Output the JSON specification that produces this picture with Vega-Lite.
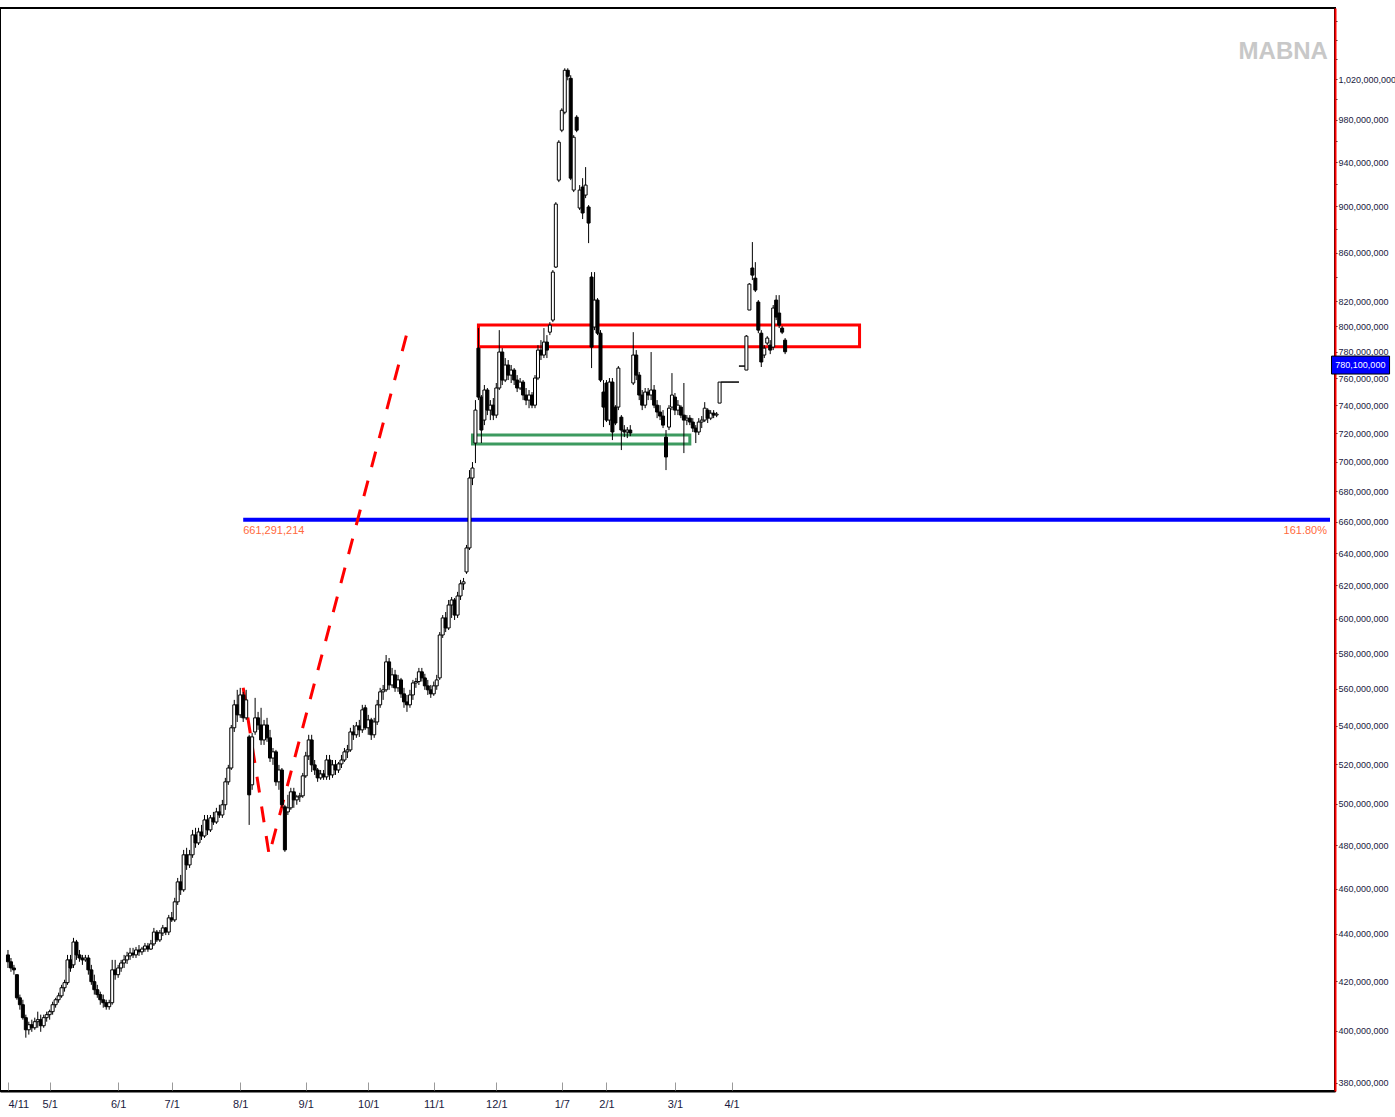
{
"$schema": "https://vega.github.io/schema/vega-lite/v6.json",
"width": 1335, "height": 1083,
"autosize": {"type": "none"},
"padding": {"left": 0, "top": 8, "right": 60, "bottom": 26},
"background": "white",
"config": {"font": "Liberation Sans", "view": {"stroke": "black", "strokeWidth": 2}},
"datasets": {"k": [
{"i":1,"o":431.0e6,"h":433.1e6,"l":425.5e6,"c":428.1e6},
{"i":2,"o":428.1e6,"h":429.7e6,"l":423.9e6,"c":425.5e6},
{"i":3,"o":425.5e6,"h":426.8e6,"l":422.7e6,"c":424.7e6},
{"i":4,"o":422.7e6,"h":422.7e6,"l":412.4e6,"c":413.2e6},
{"i":5,"o":413.2e6,"h":414.5e6,"l":408.4e6,"c":410.4e6},
{"i":6,"o":410.4e6,"h":412.4e6,"l":404.4e6,"c":405.2e6},
{"i":7,"o":405.2e6,"h":406.4e6,"l":397.3e6,"c":400.4e6},
{"i":8,"o":400.4e6,"h":403.6e6,"l":398.5e6,"c":402.4e6},
{"i":9,"o":402.4e6,"h":404.4e6,"l":399.6e6,"c":401.2e6},
{"i":10,"o":401.2e6,"h":405.2e6,"l":400.4e6,"c":403.6e6},
{"i":11,"o":403.6e6,"h":407.6e6,"l":401.2e6,"c":404.4e6},
{"i":12,"o":404.4e6,"h":406.4e6,"l":399.6e6,"c":402.0e6},
{"i":13,"o":402.0e6,"h":406.4e6,"l":401.2e6,"c":405.2e6},
{"i":14,"o":405.2e6,"h":407.6e6,"l":403.6e6,"c":406.4e6},
{"i":15,"o":406.4e6,"h":408.4e6,"l":404.4e6,"c":407.6e6},
{"i":16,"o":407.6e6,"h":411.6e6,"l":406.4e6,"c":410.4e6},
{"i":17,"o":410.4e6,"h":413.2e6,"l":409.2e6,"c":412.4e6},
{"i":18,"o":412.4e6,"h":415.3e6,"l":411.2e6,"c":414.0e6},
{"i":19,"o":414.0e6,"h":418.5e6,"l":413.2e6,"c":417.3e6},
{"i":20,"o":417.3e6,"h":420.6e6,"l":415.7e6,"c":419.4e6},
{"i":21,"o":419.4e6,"h":431.0e6,"l":418.5e6,"c":428.9e6},
{"i":22,"o":428.9e6,"h":431.0e6,"l":423.9e6,"c":425.5e6},
{"i":23,"o":426.8e6,"h":438.3e6,"l":425.5e6,"c":436.5e6},
{"i":24,"o":436.5e6,"h":437.4e6,"l":428.9e6,"c":431.0e6},
{"i":25,"o":431.0e6,"h":433.1e6,"l":428.1e6,"c":429.7e6},
{"i":26,"o":429.7e6,"h":431.0e6,"l":426.8e6,"c":428.9e6},
{"i":27,"o":428.9e6,"h":431.0e6,"l":428.1e6,"c":429.7e6},
{"i":28,"o":429.7e6,"h":431.0e6,"l":422.7e6,"c":424.7e6},
{"i":29,"o":424.7e6,"h":426.8e6,"l":418.5e6,"c":419.8e6},
{"i":30,"o":419.8e6,"h":422.7e6,"l":414.5e6,"c":416.5e6},
{"i":31,"o":416.5e6,"h":418.5e6,"l":413.2e6,"c":414.5e6},
{"i":32,"o":414.5e6,"h":415.7e6,"l":410.4e6,"c":412.4e6},
{"i":33,"o":412.4e6,"h":414.5e6,"l":409.2e6,"c":411.2e6},
{"i":34,"o":411.2e6,"h":412.4e6,"l":408.4e6,"c":409.6e6},
{"i":35,"o":409.6e6,"h":412.4e6,"l":408.4e6,"c":411.2e6},
{"i":36,"o":411.2e6,"h":428.9e6,"l":410.4e6,"c":424.7e6},
{"i":37,"o":424.7e6,"h":428.9e6,"l":420.6e6,"c":422.7e6},
{"i":38,"o":422.7e6,"h":426.8e6,"l":421.4e6,"c":425.5e6},
{"i":39,"o":425.5e6,"h":428.9e6,"l":423.9e6,"c":427.6e6},
{"i":40,"o":427.6e6,"h":431.0e6,"l":425.5e6,"c":428.9e6},
{"i":41,"o":428.9e6,"h":432.3e6,"l":427.2e6,"c":430.6e6},
{"i":42,"o":430.6e6,"h":434.0e6,"l":428.9e6,"c":431.8e6},
{"i":43,"o":431.8e6,"h":434.0e6,"l":429.7e6,"c":431.0e6},
{"i":44,"o":431.0e6,"h":434.4e6,"l":429.7e6,"c":433.1e6},
{"i":45,"o":433.1e6,"h":435.2e6,"l":430.6e6,"c":432.3e6},
{"i":46,"o":432.3e6,"h":434.4e6,"l":431.0e6,"c":433.5e6},
{"i":47,"o":433.5e6,"h":436.1e6,"l":432.3e6,"c":434.8e6},
{"i":48,"o":434.8e6,"h":436.1e6,"l":432.3e6,"c":433.5e6},
{"i":49,"o":433.5e6,"h":437.4e6,"l":433.1e6,"c":435.7e6},
{"i":50,"o":435.7e6,"h":442.6e6,"l":434.8e6,"c":440.8e6},
{"i":51,"o":440.8e6,"h":441.7e6,"l":436.5e6,"c":437.4e6},
{"i":52,"o":437.4e6,"h":441.7e6,"l":436.5e6,"c":440.4e6},
{"i":53,"o":440.4e6,"h":443.9e6,"l":439.1e6,"c":442.6e6},
{"i":54,"o":442.6e6,"h":443.0e6,"l":439.5e6,"c":440.8e6},
{"i":55,"o":440.8e6,"h":448.3e6,"l":439.5e6,"c":447.0e6},
{"i":56,"o":447.0e6,"h":449.6e6,"l":445.2e6,"c":446.1e6},
{"i":57,"o":446.1e6,"h":455.9e6,"l":445.2e6,"c":454.1e6},
{"i":58,"o":454.1e6,"h":464.9e6,"l":452.7e6,"c":463.1e6},
{"i":59,"o":463.1e6,"h":466.3e6,"l":457.2e6,"c":459.5e6},
{"i":60,"o":459.5e6,"h":477.9e6,"l":458.6e6,"c":475.6e6},
{"i":61,"o":475.6e6,"h":478.9e6,"l":468.6e6,"c":470.9e6},
{"i":62,"o":470.9e6,"h":477.9e6,"l":469.5e6,"c":475.6e6},
{"i":63,"o":475.6e6,"h":487.4e6,"l":474.2e6,"c":485.0e6},
{"i":64,"o":485.0e6,"h":488.4e6,"l":478.9e6,"c":481.2e6},
{"i":65,"o":481.2e6,"h":488.4e6,"l":480.2e6,"c":486.4e6},
{"i":66,"o":486.4e6,"h":489.8e6,"l":482.6e6,"c":484.5e6},
{"i":67,"o":484.5e6,"h":494.6e6,"l":483.6e6,"c":492.2e6},
{"i":68,"o":492.2e6,"h":494.6e6,"l":485.0e6,"c":487.4e6},
{"i":69,"o":487.4e6,"h":494.6e6,"l":486.4e6,"c":493.2e6},
{"i":70,"o":493.2e6,"h":496.1e6,"l":489.8e6,"c":491.2e6},
{"i":71,"o":491.2e6,"h":498.1e6,"l":490.3e6,"c":496.1e6},
{"i":72,"o":496.1e6,"h":499.6e6,"l":493.2e6,"c":494.6e6},
{"i":73,"o":494.6e6,"h":502.0e6,"l":493.2e6,"c":499.6e6},
{"i":74,"o":499.6e6,"h":513.0e6,"l":497.1e6,"c":511.0e6},
{"i":75,"o":511.0e6,"h":519.6e6,"l":509.5e6,"c":518.0e6},
{"i":76,"o":518.0e6,"h":540.4e6,"l":517.0e6,"c":538.9e6},
{"i":77,"o":538.9e6,"h":553.9e6,"l":536.7e6,"c":551.2e6},
{"i":78,"o":551.2e6,"h":559.4e6,"l":542.0e6,"c":545.8e6},
{"i":79,"o":545.8e6,"h":560.5e6,"l":544.2e6,"c":556.6e6},
{"i":80,"o":556.6e6,"h":558.3e6,"l":542.0e6,"c":544.2e6},
{"i":81,"o":544.2e6,"h":559.4e6,"l":543.1e6,"c":553.9e6},
{"i":82,"o":534.1e6,"h":535.2e6,"l":489.8e6,"c":504.5e6},
{"i":83,"o":509.5e6,"h":536.2e6,"l":507.0e6,"c":534.1e6},
{"i":84,"o":536.7e6,"h":555.0e6,"l":535.2e6,"c":544.2e6},
{"i":85,"o":544.2e6,"h":547.4e6,"l":537.8e6,"c":540.4e6},
{"i":86,"o":540.4e6,"h":549.6e6,"l":529.9e6,"c":532.5e6},
{"i":87,"o":532.5e6,"h":543.1e6,"l":529.9e6,"c":540.4e6},
{"i":88,"o":540.4e6,"h":544.2e6,"l":531.5e6,"c":533.6e6},
{"i":89,"o":533.6e6,"h":537.8e6,"l":521.1e6,"c":523.1e6},
{"i":90,"o":523.1e6,"h":528.3e6,"l":519.6e6,"c":526.3e6},
{"i":91,"o":526.3e6,"h":527.3e6,"l":509.0e6,"c":511.0e6},
{"i":92,"o":511.0e6,"h":519.6e6,"l":507.0e6,"c":517.0e6},
{"i":93,"o":517.0e6,"h":518.0e6,"l":498.1e6,"c":499.6e6},
{"i":94,"o":498.6e6,"h":499.6e6,"l":477.0e6,"c":477.9e6},
{"i":95,"o":496.1e6,"h":504.5e6,"l":494.6e6,"c":498.1e6},
{"i":96,"o":498.1e6,"h":508.0e6,"l":497.1e6,"c":506.0e6},
{"i":97,"o":506.0e6,"h":508.0e6,"l":498.1e6,"c":502.0e6},
{"i":98,"o":502.0e6,"h":504.5e6,"l":499.6e6,"c":503.5e6},
{"i":99,"o":503.5e6,"h":505.5e6,"l":501.0e6,"c":504.0e6},
{"i":100,"o":504.0e6,"h":515.5e6,"l":503.0e6,"c":514.0e6},
{"i":101,"o":514.0e6,"h":526.3e6,"l":513.0e6,"c":524.2e6},
{"i":102,"o":524.2e6,"h":535.2e6,"l":522.1e6,"c":532.5e6},
{"i":103,"o":532.5e6,"h":535.2e6,"l":516.0e6,"c":519.6e6},
{"i":104,"o":519.6e6,"h":522.1e6,"l":514.5e6,"c":517.0e6},
{"i":105,"o":517.0e6,"h":518.0e6,"l":511.0e6,"c":513.0e6},
{"i":106,"o":513.0e6,"h":517.0e6,"l":512.0e6,"c":515.0e6},
{"i":107,"o":515.0e6,"h":517.0e6,"l":512.0e6,"c":513.5e6},
{"i":108,"o":513.5e6,"h":524.7e6,"l":512.0e6,"c":522.1e6},
{"i":109,"o":522.1e6,"h":524.7e6,"l":512.0e6,"c":514.5e6},
{"i":110,"o":514.5e6,"h":522.1e6,"l":513.0e6,"c":519.6e6},
{"i":111,"o":519.6e6,"h":522.1e6,"l":514.5e6,"c":517.0e6},
{"i":112,"o":517.0e6,"h":521.1e6,"l":515.5e6,"c":520.1e6},
{"i":113,"o":520.1e6,"h":524.7e6,"l":518.0e6,"c":522.1e6},
{"i":114,"o":522.1e6,"h":528.3e6,"l":521.1e6,"c":526.3e6},
{"i":115,"o":526.3e6,"h":529.9e6,"l":523.1e6,"c":527.3e6},
{"i":116,"o":527.3e6,"h":538.9e6,"l":526.3e6,"c":536.7e6},
{"i":117,"o":536.7e6,"h":540.4e6,"l":532.5e6,"c":535.2e6},
{"i":118,"o":535.2e6,"h":542.0e6,"l":533.6e6,"c":539.9e6},
{"i":119,"o":539.9e6,"h":543.1e6,"l":534.1e6,"c":537.8e6},
{"i":120,"o":537.8e6,"h":551.2e6,"l":536.2e6,"c":548.5e6},
{"i":121,"o":549.6e6,"h":551.2e6,"l":537.8e6,"c":538.9e6},
{"i":122,"o":538.9e6,"h":545.8e6,"l":535.2e6,"c":543.1e6},
{"i":123,"o":543.1e6,"h":544.2e6,"l":532.5e6,"c":535.2e6},
{"i":124,"o":535.2e6,"h":544.2e6,"l":533.6e6,"c":542.0e6},
{"i":125,"o":542.0e6,"h":553.9e6,"l":540.4e6,"c":551.2e6},
{"i":126,"o":551.2e6,"h":560.5e6,"l":549.6e6,"c":558.3e6},
{"i":127,"o":558.3e6,"h":562.1e6,"l":553.9e6,"c":559.4e6},
{"i":128,"o":559.4e6,"h":578.9e6,"l":558.3e6,"c":575.0e6},
{"i":129,"o":575.0e6,"h":577.2e6,"l":559.4e6,"c":562.1e6},
{"i":130,"o":562.1e6,"h":571.6e6,"l":560.5e6,"c":567.7e6},
{"i":131,"o":567.7e6,"h":570.5e6,"l":558.3e6,"c":560.5e6},
{"i":132,"o":560.5e6,"h":567.7e6,"l":558.3e6,"c":564.9e6},
{"i":133,"o":564.9e6,"h":566.0e6,"l":555.0e6,"c":557.2e6},
{"i":134,"o":557.2e6,"h":560.5e6,"l":549.6e6,"c":552.8e6},
{"i":135,"o":552.8e6,"h":556.6e6,"l":547.4e6,"c":551.2e6},
{"i":136,"o":551.2e6,"h":559.4e6,"l":549.6e6,"c":556.6e6},
{"i":137,"o":556.6e6,"h":564.9e6,"l":553.9e6,"c":563.2e6},
{"i":138,"o":563.2e6,"h":566.0e6,"l":560.5e6,"c":564.0e6},
{"i":139,"o":564.0e6,"h":571.6e6,"l":562.1e6,"c":569.4e6},
{"i":140,"o":569.4e6,"h":571.6e6,"l":564.0e6,"c":566.0e6},
{"i":141,"o":566.0e6,"h":568.3e6,"l":559.4e6,"c":561.6e6},
{"i":142,"o":561.6e6,"h":564.9e6,"l":556.6e6,"c":559.4e6},
{"i":143,"o":559.4e6,"h":562.1e6,"l":555.0e6,"c":557.2e6},
{"i":144,"o":557.2e6,"h":564.0e6,"l":556.1e6,"c":561.6e6},
{"i":145,"o":561.6e6,"h":567.7e6,"l":559.4e6,"c":564.9e6},
{"i":146,"o":566.0e6,"h":592.1e6,"l":564.9e6,"c":590.4e6},
{"i":147,"o":590.4e6,"h":602.1e6,"l":588.7e6,"c":600.4e6},
{"i":148,"o":600.4e6,"h":603.9e6,"l":592.1e6,"c":594.5e6},
{"i":149,"o":594.5e6,"h":611.1e6,"l":593.3e6,"c":608.1e6},
{"i":150,"o":608.1e6,"h":612.9e6,"l":600.4e6,"c":611.1e6},
{"i":151,"o":611.1e6,"h":612.3e6,"l":599.2e6,"c":602.1e6},
{"i":152,"o":602.1e6,"h":616.0e6,"l":600.4e6,"c":613.5e6},
{"i":153,"o":613.5e6,"h":623.3e6,"l":611.1e6,"c":620.9e6},
{"i":154,"o":620.9e6,"h":624.5e6,"l":617.2e6,"c":622.1e6},
{"i":155,"o":628.2e6,"h":645.1e6,"l":627.0e6,"c":643.2e6},
{"i":156,"o":643.2e6,"h":694.4e6,"l":641.9e6,"c":689.0e6},
{"i":157,"o":689.0e6,"h":699.9e6,"l":684.2e6,"c":695.8e6},
{"i":158,"o":713.1e6,"h":743.9e6,"l":699.2e6,"c":736.6e6},
{"i":159,"o":782.9e6,"h":798.5e6,"l":743.9e6,"c":746.1e6},
{"i":160,"o":746.1e6,"h":747.6e6,"l":713.1e6,"c":722.3e6},
{"i":161,"o":729.4e6,"h":755.0e6,"l":725.8e6,"c":751.3e6},
{"i":162,"o":751.3e6,"h":752.8e6,"l":733.0e6,"c":736.6e6},
{"i":163,"o":736.6e6,"h":743.9e6,"l":729.4e6,"c":740.2e6},
{"i":164,"o":740.2e6,"h":745.4e6,"l":729.4e6,"c":733.0e6},
{"i":165,"o":733.0e6,"h":756.5e6,"l":730.8e6,"c":752.8e6},
{"i":166,"o":752.8e6,"h":796.9e6,"l":751.3e6,"c":779.9e6},
{"i":167,"o":779.9e6,"h":782.9e6,"l":755.0e6,"c":758.7e6},
{"i":168,"o":758.7e6,"h":775.3e6,"l":757.2e6,"c":770.0e6},
{"i":169,"o":770.0e6,"h":773.8e6,"l":758.7e6,"c":762.4e6},
{"i":170,"o":762.4e6,"h":770.0e6,"l":756.5e6,"c":766.2e6},
{"i":171,"o":766.2e6,"h":767.7e6,"l":755.0e6,"c":758.7e6},
{"i":172,"o":758.7e6,"h":762.4e6,"l":749.8e6,"c":752.8e6},
{"i":173,"o":752.8e6,"h":760.2e6,"l":751.3e6,"c":757.2e6},
{"i":174,"o":757.2e6,"h":758.7e6,"l":743.9e6,"c":747.6e6},
{"i":175,"o":747.6e6,"h":752.8e6,"l":740.2e6,"c":743.9e6},
{"i":176,"o":743.9e6,"h":751.3e6,"l":738.0e6,"c":747.6e6},
{"i":177,"o":747.6e6,"h":749.8e6,"l":738.0e6,"c":740.2e6},
{"i":178,"o":740.2e6,"h":762.4e6,"l":738.0e6,"c":760.2e6},
{"i":179,"o":760.2e6,"h":785.2e6,"l":758.7e6,"c":781.4e6},
{"i":180,"o":781.4e6,"h":789.1e6,"l":773.8e6,"c":777.6e6},
{"i":181,"o":777.6e6,"h":798.5e6,"l":775.3e6,"c":787.6e6},
{"i":182,"o":787.6e6,"h":793.0e6,"l":775.3e6,"c":781.4e6},
{"i":183,"o":795.3e6,"h":803.2e6,"l":793.0e6,"c":800.8e6},
{"i":184,"o":804.8e6,"h":845.4e6,"l":803.2e6,"c":843.7e6},
{"i":185,"o":847.9e6,"h":903.8e6,"l":847.1e6,"c":902.1e6},
{"i":186,"o":923.6e6,"h":960.6e6,"l":921.8e6,"c":958.7e6},
{"i":187,"o":970.1e6,"h":991.2e6,"l":968.2e6,"c":989.3e6},
{"i":188,"o":987.4e6,"h":1031.0e6,"l":985.4e6,"c":1029.0e6},
{"i":189,"o":1029.0e6,"h":1031.0e6,"l":1018.9e6,"c":1022.9e6},
{"i":190,"o":1020.9e6,"h":1024.0e6,"l":923.6e6,"c":925.4e6},
{"i":191,"o":914.6e6,"h":965.4e6,"l":912.8e6,"c":963.4e6},
{"i":192,"o":982.6e6,"h":984.5e6,"l":968.2e6,"c":970.1e6},
{"i":193,"o":898.6e6,"h":919.1e6,"l":896.8e6,"c":914.6e6},
{"i":194,"o":917.3e6,"h":925.4e6,"l":888.9e6,"c":894.2e6},
{"i":195,"o":910.1e6,"h":935.5e6,"l":907.4e6,"c":919.1e6},
{"i":196,"o":899.5e6,"h":901.2e6,"l":868.1e6,"c":885.4e6},
{"i":197,"o":839.6e6,"h":843.7e6,"l":767.7e6,"c":783.7e6},
{"i":198,"o":799.3e6,"h":843.7e6,"l":796.9e6,"c":820.8e6},
{"i":199,"o":820.8e6,"h":822.4e6,"l":793.0e6,"c":794.5e6},
{"i":200,"o":794.5e6,"h":796.9e6,"l":757.2e6,"c":758.7e6},
{"i":201,"o":749.8e6,"h":758.7e6,"l":724.4e6,"c":738.8e6},
{"i":202,"o":756.5e6,"h":758.7e6,"l":728.0e6,"c":729.4e6},
{"i":203,"o":729.4e6,"h":760.2e6,"l":725.8e6,"c":757.2e6},
{"i":204,"o":757.2e6,"h":760.2e6,"l":715.2e6,"c":720.9e6},
{"i":205,"o":738.8e6,"h":740.2e6,"l":725.8e6,"c":727.3e6},
{"i":206,"o":738.8e6,"h":769.2e6,"l":736.6e6,"c":767.7e6},
{"i":207,"o":731.5e6,"h":733.0e6,"l":708.2e6,"c":722.3e6},
{"i":208,"o":722.3e6,"h":725.8e6,"l":717.3e6,"c":720.9e6},
{"i":209,"o":720.9e6,"h":724.4e6,"l":716.6e6,"c":722.3e6},
{"i":210,"o":722.3e6,"h":725.8e6,"l":718.0e6,"c":720.2e6},
{"i":211,"o":756.5e6,"h":795.3e6,"l":755.0e6,"c":777.6e6},
{"i":212,"o":777.6e6,"h":781.4e6,"l":758.7e6,"c":762.4e6},
{"i":213,"o":762.4e6,"h":764.7e6,"l":743.9e6,"c":747.6e6},
{"i":214,"o":747.6e6,"h":751.3e6,"l":736.6e6,"c":740.2e6},
{"i":215,"o":740.2e6,"h":752.8e6,"l":738.0e6,"c":749.8e6},
{"i":216,"o":749.8e6,"h":752.8e6,"l":743.9e6,"c":747.6e6},
{"i":217,"o":747.6e6,"h":779.9e6,"l":743.9e6,"c":751.3e6},
{"i":218,"o":751.3e6,"h":755.0e6,"l":738.0e6,"c":740.2e6},
{"i":219,"o":740.2e6,"h":743.9e6,"l":730.8e6,"c":735.2e6},
{"i":220,"o":735.2e6,"h":740.2e6,"l":729.4e6,"c":732.3e6},
{"i":221,"o":732.3e6,"h":736.6e6,"l":723.7e6,"c":725.8e6},
{"i":222,"o":717.3e6,"h":722.3e6,"l":694.4e6,"c":703.4e6},
{"i":223,"o":724.4e6,"h":740.2e6,"l":722.3e6,"c":738.0e6},
{"i":224,"o":738.8e6,"h":763.9e6,"l":736.6e6,"c":747.6e6},
{"i":225,"o":746.1e6,"h":749.1e6,"l":733.0e6,"c":736.6e6},
{"i":226,"o":736.6e6,"h":743.9e6,"l":733.0e6,"c":740.2e6},
{"i":227,"o":738.8e6,"h":740.2e6,"l":730.8e6,"c":733.0e6},
{"i":228,"o":733.0e6,"h":756.5e6,"l":706.1e6,"c":729.4e6},
{"i":229,"o":729.4e6,"h":733.0e6,"l":725.8e6,"c":730.8e6},
{"i":230,"o":730.8e6,"h":733.0e6,"l":725.8e6,"c":728.0e6},
{"i":231,"o":728.0e6,"h":730.8e6,"l":720.9e6,"c":723.7e6},
{"i":232,"o":723.7e6,"h":725.8e6,"l":713.1e6,"c":720.9e6},
{"i":233,"o":720.9e6,"h":730.8e6,"l":718.8e6,"c":728.0e6},
{"i":234,"o":728.0e6,"h":732.3e6,"l":723.7e6,"c":729.4e6},
{"i":235,"o":729.4e6,"h":742.4e6,"l":728.0e6,"c":738.0e6},
{"i":236,"o":736.6e6,"h":738.0e6,"l":727.3e6,"c":730.8e6},
{"i":237,"o":730.8e6,"h":736.6e6,"l":729.4e6,"c":734.4e6},
{"i":238,"o":734.4e6,"h":736.6e6,"l":730.8e6,"c":733.0e6},
{"i":239,"o":733.0e6,"h":735.2e6,"l":731.5e6,"c":733.7e6},
{"i":240,"o":741.7e6,"h":757.2e6,"l":741.7e6,"c":757.2e6},
{"i":241,"o":757.2e6,"h":757.2e6,"l":757.2e6,"c":757.2e6},
{"i":242,"o":757.2e6,"h":757.2e6,"l":757.2e6,"c":757.2e6},
{"i":243,"o":757.2e6,"h":757.2e6,"l":757.2e6,"c":757.2e6},
{"i":244,"o":757.2e6,"h":757.2e6,"l":757.2e6,"c":757.2e6},
{"i":245,"o":757.2e6,"h":757.2e6,"l":757.2e6,"c":757.2e6},
{"i":246,"o":757.2e6,"h":757.2e6,"l":757.2e6,"c":757.2e6},
{"i":247,"o":769.2e6,"h":769.2e6,"l":769.2e6,"c":769.2e6},
{"i":248,"o":769.2e6,"h":769.2e6,"l":769.2e6,"c":769.2e6},
{"i":249,"o":766.2e6,"h":793.0e6,"l":766.2e6,"c":792.2e6},
{"i":250,"o":812.8e6,"h":834.6e6,"l":812.8e6,"c":833.8e6},
{"i":251,"o":847.1e6,"h":869.0e6,"l":837.1e6,"c":841.2e6},
{"i":252,"o":838.7e6,"h":852.0e6,"l":827.3e6,"c":828.9e6},
{"i":253,"o":819.2e6,"h":820.8e6,"l":794.5e6,"c":796.9e6},
{"i":254,"o":794.5e6,"h":796.9e6,"l":768.5e6,"c":772.3e6},
{"i":255,"o":777.6e6,"h":785.2e6,"l":775.3e6,"c":782.9e6},
{"i":256,"o":786.8e6,"h":792.2e6,"l":785.2e6,"c":790.7e6},
{"i":257,"o":785.2e6,"h":789.1e6,"l":778.3e6,"c":781.4e6},
{"i":258,"o":783.7e6,"h":816.8e6,"l":781.4e6,"c":814.4e6},
{"i":259,"o":820.8e6,"h":824.8e6,"l":804.8e6,"c":807.2e6},
{"i":260,"o":810.4e6,"h":824.8e6,"l":798.5e6,"c":800.8e6},
{"i":261,"o":798.5e6,"h":800.1e6,"l":793.8e6,"c":795.3e6},
{"i":262,"o":789.1e6,"h":790.7e6,"l":778.3e6,"c":780.1e6}
]},
"layer": [
{
"data": {"values": [{"x1": 80, "x2": 445, "level": 661291214}]},
"mark": {"type": "rule", "color": "#0000FF", "strokeWidth": 4},
"encoding": {
"x": {"field": "x1", "type": "quantitative", "title": null, "scale": {"domain": [0, 445], "nice": false, "zero": false},
"axis": {"title": null, "orient": "bottom", "grid": false, "values": [1,15,38,56,79,101,122,144,165,187,202,225,244],
"labelExpr": "['4/11','5/1','6/1','7/1','8/1','9/1','10/1','11/1','12/1','1/7','2/1','3/1','4/1'][indexof([1,15,38,56,79,101,122,144,165,187,202,225,244], datum.value)]",
"domainColor": "#000000", "domainWidth": 2, "tickColor": "#9a9a9a", "tickSize": -9, "tickWidth": 1,
"labelPadding": 16, "labelFontSize": 11, "labelColor": "#1a1a40", "labelFont": "Liberation Sans",
"labelAlign": {"condition": {"test": "datum.value < 5", "value": "left"}, "value": "center"}, "labelOverlap": false}},
"x2": {"field": "x2"},
"y": {"field": "level", "type": "quantitative", "title": null, "scale": {"type": "log", "domain": [377000000, 1094000000], "nice": false, "zero": false},
"axis": {"title": null, "orient": "right", "grid": false,
"values": [380000000,400000000,420000000,440000000,460000000,480000000,500000000,520000000,540000000,560000000,580000000,600000000,620000000,640000000,660000000,680000000,700000000,720000000,740000000,760000000,780000000,800000000,820000000,840000000,860000000,880000000,900000000,920000000,940000000,960000000,980000000,1000000000,1020000000,1040000000,1060000000,1080000000],
"labelExpr": "(datum.value <= 820000000 || (datum.value <= 1020000000 && datum.value % 40000000 == 20000000)) ? format(datum.value, ',') : ''",
"domainColor": "#FF0000", "domainWidth": 2, "tickColor": "#333333", "tickSize": 2, "tickWidth": 1,
"labelPadding": 1, "labelFontSize": 9, "labelColor": "#1a1a40", "labelFont": "Liberation Sans", "labelOverlap": false}}
}
},
{
"data": {"values": [{"x": 80, "level": 661291214, "label": "661,291,214"}]},
"mark": {"type": "text", "align": "left", "baseline": "top", "dy": 5, "fontSize": 11, "color": "#FF6A3D", "font": "Liberation Sans"},
"encoding": {"x": {"field": "x", "type": "quantitative", "title": null}, "y": {"field": "level", "type": "quantitative", "title": null}, "text": {"field": "label"}}
},
{
"data": {"values": [{"x": 444, "level": 661291214, "label": "161.80%"}]},
"mark": {"type": "text", "align": "right", "baseline": "top", "dy": 5, "fontSize": 11, "color": "#FF6A3D", "font": "Liberation Sans"},
"encoding": {"x": {"field": "x", "type": "quantitative", "title": null}, "y": {"field": "level", "type": "quantitative", "title": null}, "text": {"field": "label"}}
},
{
"data": {"values": [{"x0": 159, "x1": 287, "lo": 784000000, "hi": 801000000}]},
"mark": {"type": "rect", "fill": null, "fillOpacity": 0, "stroke": "#FF0000", "strokeWidth": 3},
"encoding": {"x": {"field": "x0", "type": "quantitative", "title": null}, "x2": {"field": "x1"}, "y": {"field": "lo", "type": "quantitative", "title": null}, "y2": {"field": "hi"}}
},
{
"data": {"values": [{"x0": 157, "x1": 230, "lo": 712500000, "hi": 718800000}]},
"mark": {"type": "rect", "fill": null, "fillOpacity": 0, "stroke": "#3C9A5F", "strokeWidth": 3},
"encoding": {"x": {"field": "x0", "type": "quantitative", "title": null}, "x2": {"field": "x1"}, "y": {"field": "lo", "type": "quantitative", "title": null}, "y2": {"field": "hi"}}
},
{
"data": {"values": [{"k": 0, "x": 80, "p": 560500000}, {"k": 1, "x": 88.7, "p": 475600000}, {"k": 2, "x": 135, "p": 794500000}]},
"mark": {"type": "line", "color": "#FF0000", "strokeWidth": 3, "strokeDash": [16, 14]},
"encoding": {"x": {"field": "x", "type": "quantitative", "title": null}, "y": {"field": "p", "type": "quantitative", "title": null}, "order": {"field": "k", "type": "quantitative"}}
},
{
"data": {"name": "k"},
"mark": {"type": "rule", "color": "#000000", "strokeWidth": 1},
"encoding": {"x": {"field": "i", "type": "quantitative", "title": null}, "y": {"field": "l", "type": "quantitative", "title": null}, "y2": {"field": "h"}}
},
{
"data": {"name": "k"},
"mark": {"type": "bar", "size": 3, "stroke": "#000000", "strokeWidth": 1},
"encoding": {"x": {"field": "i", "type": "quantitative", "title": null}, "y": {"field": "o", "type": "quantitative", "title": null}, "y2": {"field": "c"},
"fill": {"condition": {"test": "datum.c >= datum.o", "value": "#ffffff"}, "value": "#000000"}}
},
{
"data": {"values": [{"x": 429.3, "p": 1047500000, "t": "MABNA"}]},
"mark": {"type": "text", "fontSize": 24, "fontWeight": "bold", "color": "#C8C8C8", "font": "Liberation Sans", "align": "center", "baseline": "middle"},
"encoding": {"x": {"field": "x", "type": "quantitative", "title": null}, "y": {"field": "p", "type": "quantitative", "title": null}, "text": {"field": "t"}}
},
{
"data": {"values": [{"a": 445.5, "b": 465, "lo": 763200000, "hi": 776800000}]},
"mark": {"type": "rect", "fill": "#0000FF", "stroke": "#000000", "strokeWidth": 1},
"encoding": {"x": {"field": "a", "type": "quantitative", "title": null}, "x2": {"field": "b"}, "y": {"field": "lo", "type": "quantitative", "title": null}, "y2": {"field": "hi"}}
},
{
"data": {"values": [{"x": 455.2, "p": 770000000, "t": "780,100,000"}]},
"mark": {"type": "text", "fontSize": 9, "color": "#FFFFFF", "font": "Liberation Sans", "align": "center", "baseline": "middle"},
"encoding": {"x": {"field": "x", "type": "quantitative", "title": null}, "y": {"field": "p", "type": "quantitative", "title": null}, "text": {"field": "t"}}
}
]
}
